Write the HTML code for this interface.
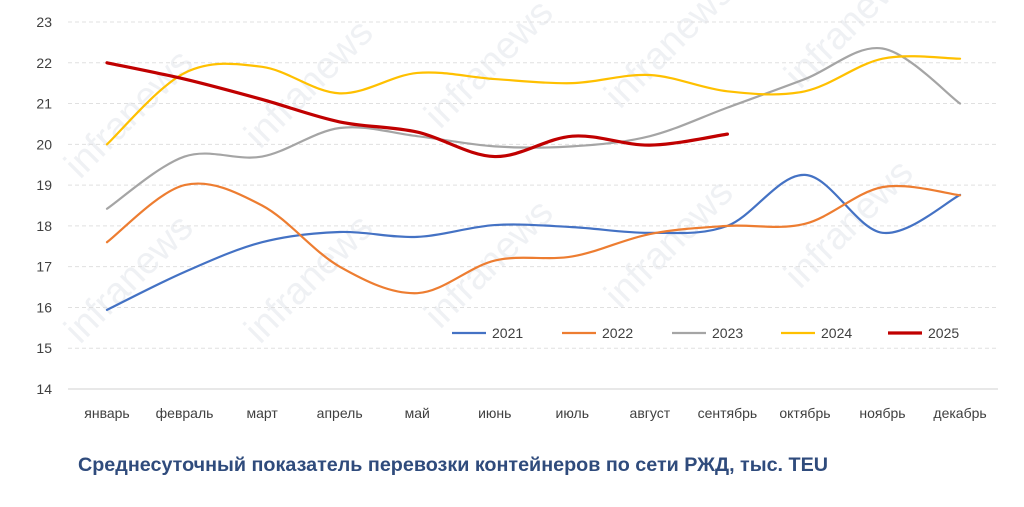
<!DOCTYPE html>
<html><head><meta charset="utf-8">
<style>
html,body{margin:0;padding:0;background:#fff;}
svg{display:block;font-family:"Liberation Sans",sans-serif;}
</style></head>
<body>
<svg id="c" width="1024" height="507" viewBox="0 0 1024 507" xmlns="http://www.w3.org/2000/svg">
<g id="wm" fill="#eceef2" font-size="38" font-family="Liberation Sans, sans-serif" opacity="0.8"></g>
<g id="grid"></g>
<g id="lines"></g>
<g id="legend" font-size="14" fill="#404040"></g>
<text x="453" y="471" text-anchor="middle" font-size="19" font-weight="bold" fill="#2f4b7c" textLength="750" lengthAdjust="spacingAndGlyphs">Среднесуточный показатель перевозки контейнеров по сети РЖД, тыс. TEU</text>
</svg>
<script>
const NS="http://www.w3.org/2000/svg";
function el(t,a,p,txt){const e=document.createElementNS(NS,t);for(const k in a)e.setAttribute(k,a[k]);if(txt!==undefined)e.textContent=txt;p.appendChild(e);return e;}
const Y=v=>389-(v-14)*40.78, X=i=>107+i*77.55;
const grid=document.getElementById('grid');
for(let v=14;v<=23;v++){
  el('line',{x1:68,x2:998,y1:Y(v),y2:Y(v),stroke:v==14?'#d0d0d0':'#e0e0e0','stroke-dasharray':v==14?'':'4,3','stroke-width':1},grid);
  el('text',{x:52,y:Y(v)+5,'text-anchor':'end','font-size':14,fill:'#404040'},grid,String(v));
}
const m=['январь','февраль','март','апрель','май','июнь','июль','август','сентябрь','октябрь','ноябрь','декабрь'];
m.forEach((s,i)=>el('text',{x:X(i),y:418,'text-anchor':'middle','font-size':14,fill:'#404040'},grid,s));
const wm=document.getElementById('wm');
[[80,180],[260,150],[440,130],[620,110],[800,90],[80,345],[260,345],[440,330],[620,310],[800,290]].forEach(([x,y])=>{
  el('text',{x:x,y:y,transform:`rotate(-45 ${x} ${y})`},wm,'infranews');
});
const S=[
 ['#4472c4',2.2,[15.94,16.87,17.6,17.85,17.73,18.02,17.97,17.83,18.0,19.25,17.83,18.76]],
 ['#ed7d31',2.2,[17.6,19.0,18.5,17.0,16.35,17.15,17.25,17.8,18.0,18.05,18.95,18.75]],
 ['#a5a5a5',2.2,[18.42,19.7,19.7,20.4,20.2,19.95,19.95,20.2,20.9,21.6,22.35,21.0]],
 ['#ffc000',2.2,[20.0,21.75,21.9,21.25,21.75,21.6,21.5,21.7,21.3,21.3,22.1,22.1]],
 ['#c00000',3.2,[22.0,21.6,21.1,20.55,20.3,19.7,20.2,19.98,20.25]]
];
const L=document.getElementById('lines');
S.forEach(([c,w,d])=>{
  const p=d.map((v,i)=>[X(i),Y(v)]);
  let s=`M${p[0][0]},${p[0][1]}`;
  for(let i=0;i<p.length-1;i++){
    const p0=p[i-1]||p[i],p1=p[i],p2=p[i+1],p3=p[i+2]||p2,t=6;
    s+=` C${p1[0]+(p2[0]-p0[0])/t},${p1[1]+(p2[1]-p0[1])/t} ${p2[0]-(p3[0]-p1[0])/t},${p2[1]-(p3[1]-p1[1])/t} ${p2[0]},${p2[1]}`;
  }
  el('path',{d:s,fill:'none',stroke:c,'stroke-width':w,'stroke-linecap':'round'},L);
});
const lg=document.getElementById('legend');
const names=['2021','2022','2023','2024','2025'];
const lx=[452,562,672,781,888];
names.forEach((n,i)=>{
  el('line',{x1:lx[i],x2:lx[i]+34,y1:333,y2:333,stroke:S[i][0],'stroke-width':S[i][1]},lg);
  el('text',{x:lx[i]+40,y:338},lg,n);
});
</script>
</body></html>
